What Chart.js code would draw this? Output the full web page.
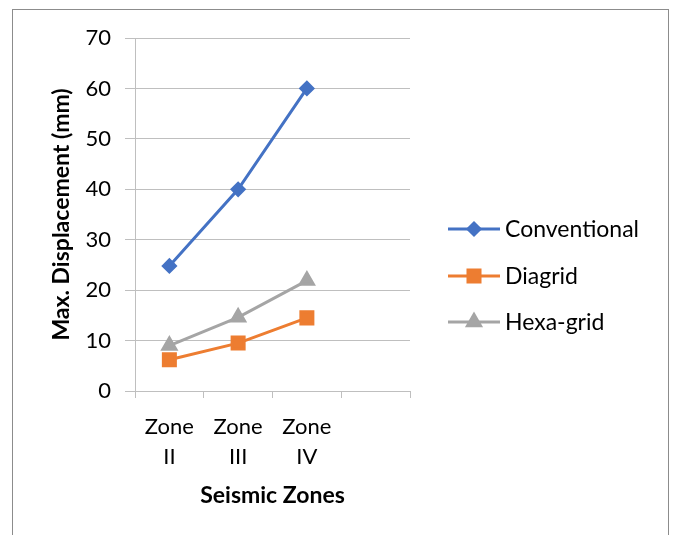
<!DOCTYPE html>
<html>
<head>
<meta charset="utf-8">
<script src="https://cdn.jsdelivr.net/npm/chart.js@4"></script>
<style>
  body { margin: 0; background: #fff; }
  #frame { position: absolute; left: 12px; top: 9px; width: 657px; height: 540px; border: 1px solid #8c8c8c; box-sizing: border-box; }
  #displacementChart { position: absolute; left: 0; top: 0; }
</style>
</head>
<body>
<div id="frame"></div>
<canvas id="displacementChart" width="674" height="535"></canvas>
<script>
// zones on the x axis (last slot is empty, like the original sheet)
var zoneLabels = [['Zone', 'II'], ['Zone', 'III'], ['Zone', 'IV'], ''];
var seriesNames = ['Conventional', 'Diagrid', 'Hexa-grid'];
// max displacement in mm
var conventional = [24.8, 40, 60];
var diagrid = [6.2, 9.5, 14.5];
var hexaGrid = [9.0, 14.6, 21.9];
var yTicks = [0, 10, 20, 30, 40, 50, 60, 70];

var FONT = 'Lato';

// legend drawn like Excel: short line with the marker in its middle
var excelLegend = {
    id: 'excelLegend',
    afterDraw: function(chart) {
        var ctx = chart.ctx;
        var rows = [229, 276, 322];
        chart.data.datasets.forEach(function(ds, i) {
            var y = rows[i];
            ctx.save();
            ctx.strokeStyle = ds.borderColor;
            ctx.lineWidth = 3;
            ctx.beginPath();
            ctx.moveTo(448, y);
            ctx.lineTo(500, y);
            ctx.stroke();
            Chart.helpers.drawPoint(ctx, {
                pointStyle: ds.pointStyle,
                radius: ds.pointRadius,
                borderWidth: 1
            }, 474, y);
            ctx.fillStyle = ds.borderColor;
            ctx.fill();
            ctx.fillStyle = '#000';
            ctx.font = '23px ' + FONT;
            ctx.textBaseline = 'middle';
            ctx.fillText(ds.label, 505, y + 1);
            ctx.restore();
        });
    }
};

var ctx = document.getElementById('displacementChart').getContext('2d');
var displacementChart = new Chart(ctx, {
    type: 'line',
    data: {
        labels: zoneLabels,
        datasets: [{
            label: seriesNames[0],
            data: conventional,
            borderColor: '#4472C4',
            backgroundColor: '#4472C4',
            pointStyle: 'rectRot',
            pointRadius: 6,
            borderWidth: 3
        }, {
            label: seriesNames[1],
            data: diagrid,
            borderColor: '#ED7D31',
            backgroundColor: '#ED7D31',
            pointStyle: 'rect',
            pointRadius: 8.5,
            borderWidth: 3
        }, {
            label: seriesNames[2],
            data: hexaGrid,
            borderColor: '#A5A5A5',
            backgroundColor: '#A5A5A5',
            pointStyle: 'triangle',
            pointRadius: 7.5,
            borderWidth: 3
        }]
    },
    options: {
        responsive: false,
        animation: false,
        layout: { padding: { left: 0, top: 38, right: 264, bottom: 0 } },
        plugins: {
            legend: { display: false },
            tooltip: { enabled: false }
        },
        elements: {
            line: { tension: 0 },
            point: { borderWidth: 1 }
        },
        scales: {
            x: {
                offset: true,
                grid: {
                    offset: true,
                    drawOnChartArea: false,
                    drawTicks: true,
                    tickLength: 7,
                    color: '#bfbfbf',
                    lineWidth: 1
                },
                border: { color: '#bfbfbf', width: 1 },
                ticks: {
                    color: '#000',
                    padding: 14,
                    maxRotation: 0,
                    autoSkip: false,
                    font: { family: FONT, size: 22, lineHeight: 1.36 }
                },
                title: {
                    display: true,
                    text: 'Seismic Zones',
                    color: '#000',
                    font: { family: FONT, size: 23, weight: 'bold' },
                    padding: { top: 0, bottom: 26 }
                },
                afterFit: function(scale) { scale.height = 144; }
            },
            y: {
                min: 0,
                max: 70,
                afterBuildTicks: function(scale) {
                    scale.ticks = yTicks.map(function(v) { return { value: v }; });
                },
                grid: {
                    color: '#bfbfbf',
                    lineWidth: 1,
                    tickLength: 10
                },
                border: { color: '#bfbfbf', width: 1 },
                ticks: {
                    color: '#000',
                    padding: 14,
                    font: { family: FONT, size: 22 }
                },
                title: {
                    display: true,
                    text: 'Max. Displacement (mm)',
                    color: '#000',
                    font: { family: FONT, size: 23, weight: 'bold' },
                    padding: { top: 48, bottom: 0 }
                },
                afterFit: function(scale) { scale.width = 135; }
            }
        }
    },
    plugins: [excelLegend]
});
</script>
</body>
</html>
